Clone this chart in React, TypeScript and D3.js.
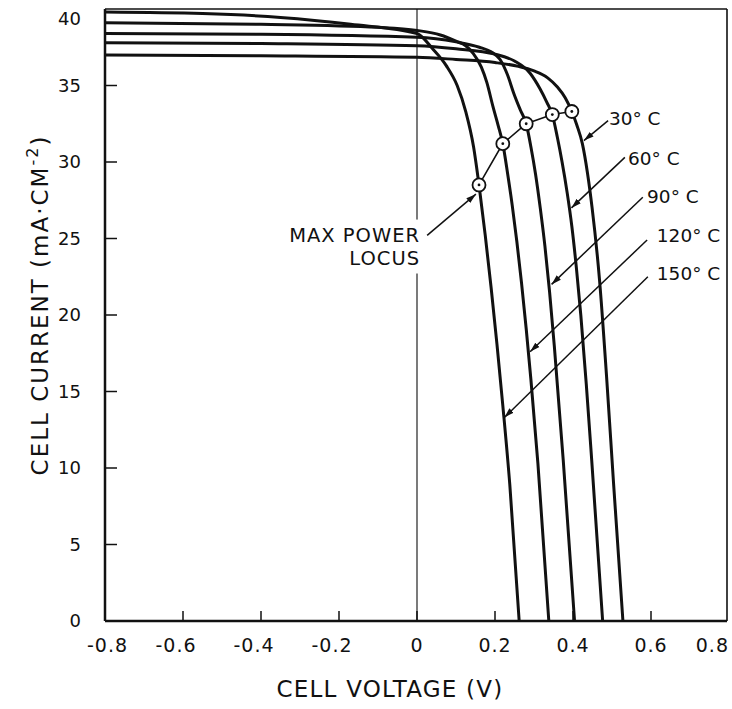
import React, { useEffect, useRef } from "react";
import * as d3 from "d3";

// Cell current vs voltage at five temperatures, with the max power locus

const voltageTicks = [-0.8, -0.6, -0.4, -0.2, 0, 0.2, 0.4, 0.6, 0.8];
const voltageLabels = ["-0.8", "-0.6", "-0.4", "-0.2", "0", "0.2", "0.4", "0.6", "0.8"];
const currentTicks = [0, 5, 10, 15, 20, 25, 30, 35, 40];

// [voltage V, current mA/cm2]
const curve30 = [[-0.8, 37.0], [-0.4, 36.95], [0, 36.85], [0.1, 36.7], [0.2, 36.5], [0.26, 36.25], [0.3, 35.95], [0.335, 35.5], [0.36, 34.9], [0.38, 34.2], [0.397, 33.3], [0.41, 32.4], [0.424, 31.2], [0.437, 29.3], [0.449, 27.0], [0.468, 22.3], [0.486, 16.0], [0.504, 9.0], [0.528, 0]];
const curve60 = [[-0.8, 37.8], [-0.4, 37.75], [0, 37.6], [0.1, 37.4], [0.2, 37.05], [0.25, 36.6], [0.29, 35.8], [0.315, 34.8], [0.333, 33.9], [0.347, 33.1], [0.36, 31.6], [0.372, 30.0], [0.385, 28.0], [0.397, 25.8], [0.409, 23.0], [0.42, 20.0], [0.434, 15.5], [0.448, 10.5], [0.476, 0]];
const curve90 = [[-0.8, 38.4], [-0.4, 38.35], [0, 38.15], [0.1, 37.85], [0.16, 37.5], [0.19, 37.2], [0.213, 36.7], [0.232, 35.7], [0.248, 34.5], [0.265, 33.4], [0.28, 32.5], [0.292, 31.0], [0.304, 29.2], [0.316, 27.0], [0.328, 24.5], [0.34, 21.5], [0.352, 18.0], [0.375, 10.5], [0.404, 0]];
const curve120 = [[-0.8, 39.1], [-0.4, 39.0], [-0.1, 38.8], [0, 38.6], [0.06, 38.3], [0.1, 37.9], [0.125, 37.6], [0.144, 37.1], [0.165, 36.2], [0.179, 35.2], [0.195, 33.6], [0.208, 32.4], [0.22, 31.2], [0.232, 29.3], [0.244, 27.2], [0.256, 24.8], [0.268, 22.1], [0.28, 19.1], [0.292, 15.8], [0.31, 10.3], [0.338, 0]];
const curve150 = [[-0.8, 39.8], [-0.55, 39.7], [-0.35, 39.45], [-0.17, 39.0], [0, 38.4], [0.04, 37.4], [0.075, 36.3], [0.103, 35.0], [0.125, 33.3], [0.145, 31.0], [0.159, 28.5], [0.175, 25.2], [0.19, 21.8], [0.205, 18.1], [0.22, 14.1], [0.238, 8.9], [0.262, 0]];

const temperatures = ["30° C", "60° C", "90° C", "120° C", "150° C"];
const curves = [curve30, curve60, curve90, curve120, curve150];

// max power points, 150 C first
const maxPower = [[0.159, 28.5], [0.22, 31.2], [0.28, 32.5], [0.347, 33.1], [0.397, 33.3]];

// temperature labels: text start, leader start, leader end (on the curve)
const labelAt = [[0.492, 32.4], [0.541, 29.8], [0.59, 27.3], [0.615, 24.8], [0.615, 22.3]];
const leaderFrom = [[0.49, 32.7], [0.533, 30.3], [0.579, 27.7], [0.59, 24.9], [0.592, 22.5]];
const leaderTo = [[0.428, 31.4], [0.396, 27.0], [0.345, 22.0], [0.29, 17.6], [0.224, 13.3]];

const locusLines = ["MAX POWER", "LOCUS"];
const locusLabelAt = [[0.008, 24.8], [0.008, 23.3]];
const locusLeader = [[0.026, 25.2], [0.151, 27.9]];

const font = "'DejaVu Sans', sans-serif";

const App = () => {
    const svgRef = useRef<SVGSVGElement>(null);

    useEffect(() => {
        const width = 732;
        const height = 709;
        const margin = { top: 9, right: 3, bottom: 88, left: 105 };

        const svg = d3.select(svgRef.current);
        svg.selectAll("*").remove();

        const x = d3.scaleLinear().domain([-0.8, 0.8]).range([margin.left, width - margin.right]);
        const y = d3.scaleLinear().domain([0, 40]).range([height - margin.bottom, margin.top]);

        svg.append("defs")
            .append("marker")
            .attr("id", "head")
            .attr("viewBox", "0 0 10 10")
            .attr("refX", 10)
            .attr("refY", 5)
            .attr("markerWidth", 10)
            .attr("markerHeight", 10)
            .attr("markerUnits", "userSpaceOnUse")
            .attr("orient", "auto")
            .append("path")
            .attr("d", "M0,2L10,5L0,8Z")
            .attr("fill", "#111");

        // zero volt line
        svg.append("line")
            .attr("x1", x(0)).attr("x2", x(0))
            .attr("y1", y(40)).attr("y2", y(0))
            .attr("stroke", "#222").attr("stroke-width", 1.2);

        // ticks
        svg.append("g")
            .selectAll("line")
            .data(voltageTicks.slice(1, -1))
            .join("line")
            .attr("x1", d => x(d)).attr("x2", d => x(d))
            .attr("y1", y(0)).attr("y2", y(0) - 10)
            .attr("stroke", "#111").attr("stroke-width", 1.5);

        svg.append("g")
            .selectAll("line")
            .data(currentTicks.slice(1, -1))
            .join("line")
            .attr("x1", x(-0.8)).attr("x2", x(-0.8) + 12)
            .attr("y1", d => y(d)).attr("y2", d => y(d))
            .attr("stroke", "#111").attr("stroke-width", 1.5);

        // frame
        const frame = svg.append("g").attr("stroke", "#111").attr("fill", "none");
        frame.append("line").attr("x1", x(-0.8)).attr("x2", x(0.8) - 2).attr("y1", y(40)).attr("y2", y(40)).attr("stroke-width", 1.6);
        frame.append("line").attr("x1", x(0.8) - 2).attr("x2", x(0.8) - 2).attr("y1", y(40)).attr("y2", y(0)).attr("stroke-width", 1.6);
        frame.append("line").attr("x1", x(-0.8)).attr("x2", x(0.8) - 2).attr("y1", y(0)).attr("y2", y(0)).attr("stroke-width", 2.5);
        frame.append("line").attr("x1", x(-0.8)).attr("x2", x(-0.8)).attr("y1", y(40)).attr("y2", y(0)).attr("stroke-width", 2.5);

        // tick labels
        svg.append("g")
            .selectAll("text")
            .data(voltageTicks)
            .join("text")
            .attr("x", (d, i) => i === 0 ? x(d) - 18 : x(d))
            .attr("dx", (d, i) => (d < 0 && i > 0) ? -7 : 0)
            .attr("y", y(0) + 31)
            .attr("text-anchor", (d, i) => i === 0 ? "start" : i === voltageTicks.length - 1 ? "end" : "middle")
            .attr("font-family", font)
            .attr("font-size", 19)
            .attr("letter-spacing", 1)
            .attr("fill", "#111")
            .text((d, i) => voltageLabels[i]);

        // the top label sits a little below its tick so it stays inside the page
        svg.append("g")
            .selectAll("text")
            .data(currentTicks)
            .join("text")
            .attr("x", x(-0.8) - 24)
            .attr("y", d => Math.max(y(d), margin.top + 10))
            .attr("dy", "0.36em")
            .attr("text-anchor", "end")
            .attr("font-family", font)
            .attr("font-size", 18)
            .attr("fill", "#111")
            .text(d => d);

        // axis titles
        svg.append("text")
            .attr("x", (x(-0.8) + x(0.8)) / 2 - 27)
            .attr("y", 697)
            .attr("text-anchor", "middle")
            .attr("font-family", font)
            .attr("font-size", 23)
            .attr("letter-spacing", 1.2)
            .attr("fill", "#111")
            .text("CELL VOLTAGE (V)");

        const yTitle = svg.append("text")
            .attr("transform", `translate(48,${(y(0) + y(40)) / 2 - 10}) rotate(-90)`)
            .attr("text-anchor", "middle")
            .attr("font-family", font)
            .attr("font-size", 23)
            .attr("letter-spacing", 2)
            .attr("fill", "#111");
        yTitle.append("tspan").text("CELL CURRENT (mA·CM");
        yTitle.append("tspan").attr("dy", -10).attr("font-size", 16).text("-2");
        yTitle.append("tspan").attr("dy", 10).text(")");

        // I-V curves
        const line = d3.line<number[]>()
            .x(d => x(d[0]))
            .y(d => y(d[1]))
            .curve(d3.curveMonotoneX);

        svg.append("g")
            .selectAll("path")
            .data(curves)
            .join("path")
            .attr("d", d => line(d))
            .attr("fill", "none")
            .attr("stroke", "#111")
            .attr("stroke-width", 3)
            .append("title")
            .text((d, i) => temperatures[i]);

        // leaders for temperature labels
        svg.append("g")
            .selectAll("line")
            .data(temperatures)
            .join("line")
            .attr("x1", (d, i) => x(leaderFrom[i][0]))
            .attr("y1", (d, i) => y(leaderFrom[i][1]))
            .attr("x2", (d, i) => x(leaderTo[i][0]))
            .attr("y2", (d, i) => y(leaderTo[i][1]))
            .attr("stroke", "#111")
            .attr("stroke-width", 1.5)
            .attr("marker-end", "url(#head)");

        svg.append("g")
            .selectAll("text")
            .data(temperatures)
            .join("text")
            .attr("x", (d, i) => x(labelAt[i][0]))
            .attr("y", (d, i) => y(labelAt[i][1]))
            .attr("font-family", font)
            .attr("font-size", 18.5)
            .attr("fill", "#111")
            .text(d => d);

        // max power locus
        svg.append("path")
            .attr("d", d3.line<number[]>().x(d => x(d[0])).y(d => y(d[1]))(maxPower))
            .attr("fill", "none")
            .attr("stroke", "#111")
            .attr("stroke-width", 1.6);

        svg.append("g")
            .selectAll("circle")
            .data(maxPower)
            .join("circle")
            .attr("cx", d => x(d[0]))
            .attr("cy", d => y(d[1]))
            .attr("r", 6.5)
            .attr("fill", "#fff")
            .attr("stroke", "#111")
            .attr("stroke-width", 1.8);

        svg.append("g")
            .selectAll("circle")
            .data(maxPower)
            .join("circle")
            .attr("cx", d => x(d[0]))
            .attr("cy", d => y(d[1]))
            .attr("r", 1.4)
            .attr("fill", "#111");

        const locus = svg.append("g");
        const locusBg = locus.append("rect").attr("fill", "#fff");
        const locusText = locus.append("g");
        locusText.selectAll("text")
            .data(locusLines)
            .join("text")
            .attr("x", (d, i) => x(locusLabelAt[i][0]))
            .attr("y", (d, i) => y(locusLabelAt[i][1]))
            .attr("text-anchor", "end")
            .attr("font-family", font)
            .attr("font-size", 19.5)
            .attr("letter-spacing", 1)
            .attr("fill", "#111")
            .text(d => d);
        const box = (locusText.node() as SVGGElement).getBBox();
        locusBg.attr("x", box.x).attr("y", box.y - 4).attr("width", box.width + 4).attr("height", box.height + 8);

        locus.append("line")
            .attr("x1", x(locusLeader[0][0]))
            .attr("y1", y(locusLeader[0][1]))
            .attr("x2", x(locusLeader[1][0]))
            .attr("y2", y(locusLeader[1][1]))
            .attr("stroke", "#111")
            .attr("stroke-width", 1.5)
            .attr("marker-end", "url(#head)");
    }, []);

    return (
        <svg
            ref={svgRef}
            width={732}
            height={709}
            style={{ position: "absolute", left: 0, top: 0, background: "#fff" }}
        ></svg>
    );
};

export default App;
